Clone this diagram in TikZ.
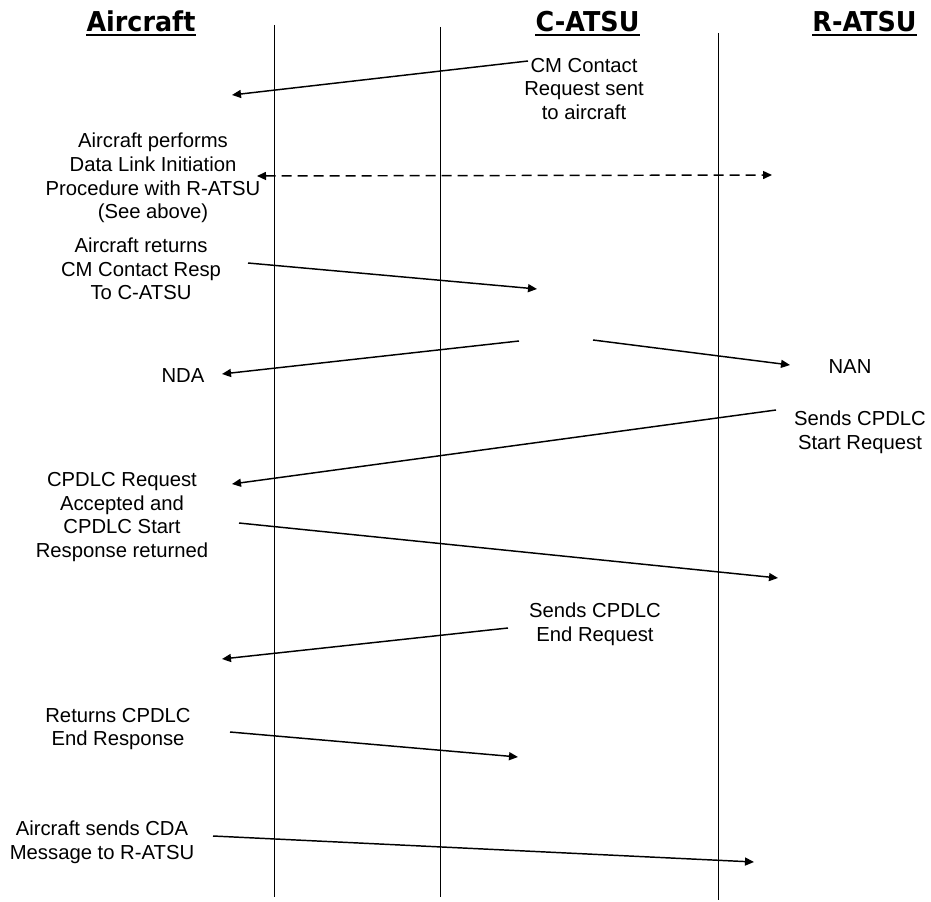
\documentclass[tikz,border=0pt]{standalone}
\usepackage{fontspec}
\setmainfont{Liberation Sans}
\newfontfamily\hdrfont{DejaVu Sans Bold}[FakeStretch=0.93]
\usetikzlibrary{arrows.meta}
\begin{document}
\begin{tikzpicture}[x=0.75pt,y=-0.75pt,
  lbl/.style={align=center,inner sep=0pt,font=\fontsize{15.2}{17.7}\selectfont},
  hdr/.style={inner sep=0pt,anchor=base,font=\fontsize{20.5}{24}\selectfont\hdrfont},
  uline/.style={line width=1.5pt},
  life/.style={line width=0.75pt},
  msg/.style={line width=1.1pt,-{Triangle[length=6.75pt,width=6pt]}},
  dmsg/.style={line width=1.1pt,dash pattern=on 7.5pt off 4.5pt,{Triangle[length=6.75pt,width=6pt]}-{Triangle[length=6.75pt,width=6pt]}}]
\useasboundingbox (0,0) rectangle (931,902);
% headers
\node[hdr] (hA) at (141,32) {Aircraft};
\node[hdr] (hC) at (587.5,32) {C-ATSU};
\node[hdr] (hR) at (864.5,32) {R-ATSU};
\foreach \h in {hA,hC,hR}
  \draw[uline] ([yshift=-1.9pt]\h.base west) -- ([yshift=-1.9pt]\h.base east);
% lifelines
\coordinate (l1t) at (274,25);  \coordinate (l1b) at (274,897);
\coordinate (l2t) at (440,27);  \coordinate (l2b) at (440,897);
\coordinate (l3t) at (718,33);  \coordinate (l3b) at (718,900);
\draw[life] (l1t) -- (l1b);
\draw[life] (l2t) -- (l2b);
\draw[life] (l3t) -- (l3b);
% labels
\node[lbl] (t1) at (584,89) {CM Contact\\Request sent\\to aircraft};
\node[lbl] (t2) at (153,178) {Aircraft performs\\Data Link Initiation\\Procedure with R-ATSU\\(See above)};
\node[lbl] (t3) at (141,269) {Aircraft returns\\CM Contact Resp\\To C-ATSU};
\node[lbl] (t4) at (183,376) {NDA};
\node[lbl] (t5) at (850,367) {NAN};
\node[lbl] (t6) at (860,432) {Sends CPDLC\\Start Request};
\node[lbl] (t7) at (122,517) {CPDLC Request\\Accepted and\\CPDLC Start\\Response returned};
\node[lbl] (t8) at (595,624) {Sends CPDLC\\End Request};
\node[lbl] (t9) at (118,729) {Returns CPDLC\\End Response};
\node[lbl] (t10) at (102,842) {Aircraft sends CDA\\Message to R-ATSU};
% message end points
\coordinate (a1s) at (528,61);  \coordinate (a1e) at (232,95);
\coordinate (a2s) at (257,176); \coordinate (a2e) at (772,175);
\coordinate (a3s) at (248,263); \coordinate (a3e) at (537,289);
\coordinate (a4s) at (519,341); \coordinate (a4e) at (222,374);
\coordinate (a5s) at (593,340); \coordinate (a5e) at (790,365);
\coordinate (a6s) at (776,410); \coordinate (a6e) at (232,484);
\coordinate (a7s) at (239,523); \coordinate (a7e) at (778,578);
\coordinate (a8s) at (508,628); \coordinate (a8e) at (222,659);
\coordinate (a9s) at (230,732); \coordinate (a9e) at (518,757);
\coordinate (a10s) at (213,836); \coordinate (a10e) at (754,862);
% messages
\draw[msg] (a1s) -- (a1e);
\draw[dmsg] (a2s) -- (a2e);
\draw[msg] (a3s) -- (a3e);
\draw[msg] (a4s) -- (a4e);
\draw[msg] (a5s) -- (a5e);
\draw[msg] (a6s) -- (a6e);
\draw[msg] (a7s) -- (a7e);
\draw[msg] (a8s) -- (a8e);
\draw[msg] (a9s) -- (a9e);
\draw[msg] (a10s) -- (a10e);
\end{tikzpicture}
\end{document}
